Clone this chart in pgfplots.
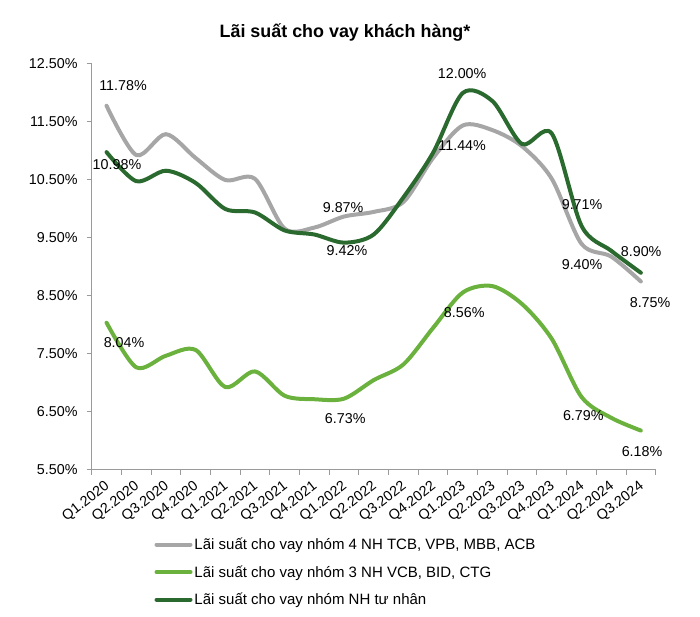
\documentclass[border=0pt]{standalone}
\usepackage{pgfplots}
\pgfplotsset{compat=1.18}
\usepackage{fontspec}
\setmainfont{Liberation Sans}
\definecolor{cgray}{HTML}{A6A6A6}
\definecolor{clight}{HTML}{6AB23D}
\definecolor{cdark}{HTML}{2B6A2F}
\definecolor{caxis}{HTML}{9A9A9A}
\pgfplotstableread{
x gray light dark
0 11.78 8.04 10.98
1 10.93 7.27 10.48
2 11.29 7.47 10.66
3 10.88 7.57 10.45
4 10.50 6.93 10.00
5 10.52 7.20 9.94
6 9.66 6.78 9.63
7 9.68 6.72 9.56
8 9.87 6.73 9.42
9 9.95 7.05 9.56
10 10.12 7.32 10.20
11 10.88 7.95 10.97
12 11.44 8.56 12.00
13 11.36 8.67 11.86
14 11.08 8.36 11.12
15 10.52 7.76 11.30
16 9.40 6.76 9.71
17 9.18 6.40 9.28
18 8.75 6.18 8.90
}\datatable
\begin{document}
\begin{tikzpicture}[x=1bp,y=1bp]
\path[use as bounding box] (0,0) rectangle (700,617);
\node[font=\fontsize{17.9bp}{20bp}\selectfont\bfseries] at (345,584) {Lãi suất cho vay khách hàng*};
\begin{axis}[
 at={(91.7bp,147bp)}, anchor=south west,
 scale only axis, width=564bp, height=406bp,
 xmin=-0.5, xmax=18.5, ymin=5.5, ymax=12.5,
 axis x line*=bottom, axis y line*=left,
 axis line style={caxis, line width=1bp},
 every tick/.style={caxis, line width=1bp},
 tick align=outside,
 major tick length=5bp, minor tick length=5bp,
 xtick={0,...,18},
 xticklabels={Q1.2020,Q2.2020,Q3.2020,Q4.2020,Q1.2021,Q2.2021,Q3.2021,Q4.2021,Q1.2022,Q2.2022,Q3.2022,Q4.2022,Q1.2023,Q2.2023,Q3.2023,Q4.2023,Q1.2024,Q2.2024,Q3.2024},
 major x tick style={draw=none},
 minor xtick={-0.5,0.5,...,18.5},
 ytick={5.5,6.5,...,12.5},
 yticklabels={5.50\%,6.50\%,7.50\%,8.50\%,9.50\%,10.50\%,11.50\%,12.50\%},
 ticklabel style={font=\fontsize{14.3bp}{16bp}\selectfont},
 xticklabel style={rotate=38, anchor=north east, inner sep=1bp, xshift=-4bp, yshift=-1bp},
 yticklabel style={inner sep=2bp, xshift=-7bp},
 clip=false,
 legend style={at={(0.111,-0.1625)}, anchor=north west, draw=none, fill=none,
   font=\fontsize{15bp}{17bp}\selectfont, row sep=10.5bp, inner sep=0pt,
   cells={anchor=west}},
 legend image code/.code={\draw[#1] (0bp,0bp) -- (34bp,0bp);},
 every axis plot/.append style={line width=4bp, smooth, tension=0.5, line cap=round, line join=round},
]
\addplot[cgray] table[x=x,y=gray] {\datatable};
\addlegendentry{Lãi suất cho vay nhóm 4 NH TCB, VPB, MBB, ACB}
\addplot[clight] table[x=x,y=light] {\datatable};
\addlegendentry{Lãi suất cho vay nhóm 3 NH VCB, BID, CTG}
\addplot[cdark] table[x=x,y=dark] {\datatable};
\addlegendentry{Lãi suất cho vay nhóm NH tư nhân}
\begin{scope}[every node/.style={font=\fontsize{14.3bp}{16bp}\selectfont, inner sep=0pt}]
\node at (axis cs:0.556,12.12) {11.78\%};
\node at (axis cs:0.352,10.76) {10.98\%};
\node at (axis cs:7.97,10.02) {9.87\%};
\node at (axis cs:8.10,9.28) {9.42\%};
\node at (axis cs:11.98,12.34) {12.00\%};
\node at (axis cs:11.98,11.09) {11.44\%};
\node at (axis cs:16.02,10.07) {9.71\%};
\node at (axis cs:16.02,9.05) {9.40\%};
\node at (axis cs:18.01,9.26) {8.90\%};
\node at (axis cs:18.31,8.38) {8.75\%};
\node at (axis cs:0.59,7.69) {8.04\%};
\node at (axis cs:8.04,6.38) {6.73\%};
\node at (axis cs:12.05,8.21) {8.56\%};
\node at (axis cs:16.06,6.43) {6.79\%};
\node at (axis cs:18.04,5.81) {6.18\%};
\end{scope}
\end{axis}
\end{tikzpicture}
\end{document}
